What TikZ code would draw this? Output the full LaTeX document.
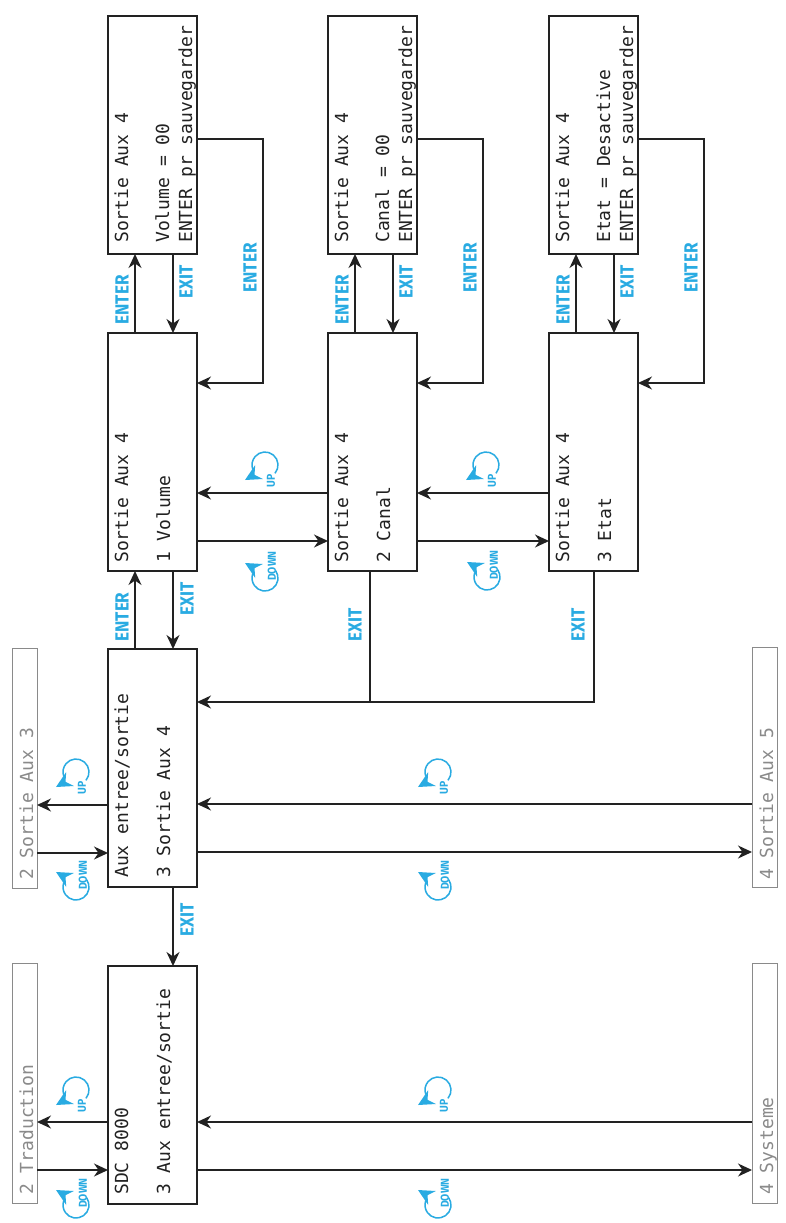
\documentclass[tikz,border=0pt]{standalone}
\usepackage{fontspec}
\usetikzlibrary{arrows.meta}
\newfontfamily\lcd{DejaVu Sans Mono}
\newfontfamily\lab{Fira Sans}[FakeStretch=0.9]
\definecolor{cy}{HTML}{29ABE2}
\definecolor{gr}{HTML}{8A8A8A}
\definecolor{ink}{HTML}{222222}
\tikzset{
  box/.style={draw=ink, line width=1.2pt, minimum width=89pt, minimum height=238pt, inner sep=0pt, outer sep=0pt, anchor=north west},
  gbox/.style={draw=gr, line width=1pt, minimum width=25pt, minimum height=240pt, inner sep=0pt, outer sep=0pt, anchor=north west},
  lcdt/.style={rotate=90, anchor=base west, inner sep=0pt, text=ink, font=\lcd\fontsize{18}{20}\selectfont},
  gt/.style={lcdt, text=gr},
  lb/.style={rotate=90, inner sep=0pt, text=cy, font=\lab\bfseries\fontsize{19}{20}\selectfont},
  ic/.style={rotate=90, inner sep=0pt, text=cy, font=\lab\bfseries\fontsize{11.5}{12}\selectfont},
  arr/.style={draw=ink, line width=1.4pt, -{Stealth[length=14pt,width=13pt,inset=4.5pt]}},
  ln/.style={draw=ink, line width=1.4pt},
  pics/upicon/.style={code={
    \draw[cy, line width=1.5pt] (-40:13pt) arc[start angle=-40, end angle=200, radius=13pt];
    \fill[cy] (-20,-15) -- (-2.2,-14) -- (-10.5,-9.8) -- (-9.8,0) -- cycle;
    \node[ic] (-t) at (6,-16) {UP};
  }},
  pics/downicon/.style={code={
    \draw[cy, line width=1.5pt] (35:13pt) arc[start angle=35, end angle=-200, radius=13pt];
    \fill[cy] (-20,15) -- (-2.2,14) -- (-10.5,9.8) -- (-9.8,0) -- cycle;
    \node[ic] (-t) at (7,12) {DOWN};
  }},
}
\begin{document}
\begin{tikzpicture}[x=1pt,y=1pt]
\useasboundingbox (0,0) rectangle (785,-1223);
\fill[white] (0,0) rectangle (785,-1223);

% boxes
\node[box] (vole) at (108,-16) {};
\node[box] (cane) at (328,-16) {};
\node[box] (etae) at (549,-16) {};
\node[box] (vol) at (108,-333) {};
\node[box] (can) at (328,-333) {};
\node[box] (eta) at (549,-333) {};
\node[box] (aux) at (108,-649) {};
\node[box] (sdc) at (108,-966) {};
\node[gbox] (sa3) at (12,-648) {};
\node[gbox] (trad) at (12,-963) {};
\node[gbox] (sa5) at (752,-647) {};
\node[gbox] (sys) at (752,-963) {};

% texts
\node[lcdt] (vole1) at (128,-243) {Sortie Aux 4};
\node[lcdt] (vole2) at (169,-243) {Volume = 00};
\node[lcdt] (vole3) at (192,-243) {ENTER pr sauvegarder};
\node[lcdt] (cane1) at (348,-243) {Sortie Aux 4};
\node[lcdt] (cane2) at (389,-243) {Canal = 00};
\node[lcdt] (cane3) at (412,-243) {ENTER pr sauvegarder};
\node[lcdt] (etae1) at (569,-243) {Sortie Aux 4};
\node[lcdt] (etae2) at (610,-243) {Etat = Desactive};
\node[lcdt] (etae3) at (633,-243) {ENTER pr sauvegarder};
\node[lcdt] (vol1) at (128,-563) {Sortie Aux 4};
\node[lcdt] (vol2) at (170,-563) {1 Volume};
\node[lcdt] (can1) at (348,-563) {Sortie Aux 4};
\node[lcdt] (can2) at (390,-563) {2 Canal};
\node[lcdt] (eta1) at (569,-563) {Sortie Aux 4};
\node[lcdt] (eta2) at (611,-563) {3 Etat};
\node[lcdt] (aux1) at (128,-878) {Aux entree/sortie};
\node[lcdt] (aux2) at (170,-878) {3 Sortie Aux 4};
\node[lcdt] (sdc1) at (128,-1195) {SDC 8000};
\node[lcdt] (sdc2) at (170,-1195) {3 Aux entree/sortie};
\node[gt] (sa3t) at (33,-880) {2 Sortie Aux 3};
\node[gt] (tradt) at (33,-1195) {2 Traduction};
\node[gt] (sa5t) at (773,-880) {4 Sortie Aux 5};
\node[gt] (syst) at (773,-1195) {4 Systeme};

% row SDC
\draw[arr] (sdc.west |- 0,-1122) -- (trad.east |- 0,-1122);
\draw[arr] (trad.east |- 0,-1170) -- (sdc.west |- 0,-1170);
\draw[arr] (sys.west |- 0,-1122) -- (sdc.east |- 0,-1122);
\draw[arr] (sdc.east |- 0,-1170) -- (sys.west |- 0,-1170);

% row aux
\draw[arr] (aux.west |- 0,-805) -- (sa3.east |- 0,-805);
\draw[arr] (sa3.east |- 0,-853) -- (aux.west |- 0,-853);
\draw[arr] (sa5.west |- 0,-804) -- (aux.east |- 0,-804);
\draw[arr] (aux.east |- 0,-852) -- (sa5.west |- 0,-852);
\draw[arr] (aux.south -| 173,0) -- (sdc.north -| 173,0);
\draw[arr] (aux.north -| 135,0) -- (vol.south -| 135,0);
\draw[arr] (vol.south -| 173,0) -- (aux.north -| 173,0);

% exit returns
\coordinate (cj) at (370,-702);
\draw[ln] (can.south -| cj) -- (cj);
\draw[arr] (eta.south -| 594,0) |- (aux.east |- cj);

% level 2 horizontals
\draw[arr] (can.west |- 0,-493) -- (vol.east |- 0,-493);
\draw[arr] (vol.east |- 0,-541) -- (can.west |- 0,-541);
\draw[arr] (eta.west |- 0,-493) -- (can.east |- 0,-493);
\draw[arr] (can.east |- 0,-541) -- (eta.west |- 0,-541);

% edit boxes
\foreach \a/\b/\o in {vol/vole/0, can/cane/220, eta/etae/441} {
  \draw[arr] (\a.north -| {135+\o},0) -- (\b.south -| {135+\o},0);
  \draw[arr] (\b.south -| {173+\o},0) -- (\a.north -| {173+\o},0);
  \draw[arr] (\b.east |- 0,-139) -- ({263+\o},-139) -- ({263+\o},-383) -- (\a.east |- 0,-383);
  \node[lb] (lE\o) at ({122+\o},-300) {ENTER};
  \node[lb] (lX\o) at ({186+\o},-282) {EXIT};
  \node[lb] (lR\o) at ({250+\o},-268) {ENTER};
}

% labels
\node[lb] (lEa) at (122,-617) {ENTER};
\node[lb] (lXa) at (187,-599) {EXIT};
\node[lb] (lXs) at (187,-920) {EXIT};
\node[lb] (lXc) at (355,-625) {EXIT};
\node[lb] (lXe) at (578,-625) {EXIT};

% icons
\pic (i1) at (265,-465) {upicon};
\pic (i2) at (265,-578) {downicon};
\pic (i3) at (486,-465) {upicon};
\pic (i4) at (487,-577) {downicon};
\pic (i5) at (76,-772) {upicon};
\pic (i6) at (76,-887) {downicon};
\pic (i7) at (438,-772) {upicon};
\pic (i8) at (438,-887) {downicon};
\pic (i9) at (76,-1090) {upicon};
\pic (i10) at (76,-1205) {downicon};
\pic (i11) at (438,-1090) {upicon};
\pic (i12) at (438,-1205) {downicon};
\end{tikzpicture}
\end{document}
